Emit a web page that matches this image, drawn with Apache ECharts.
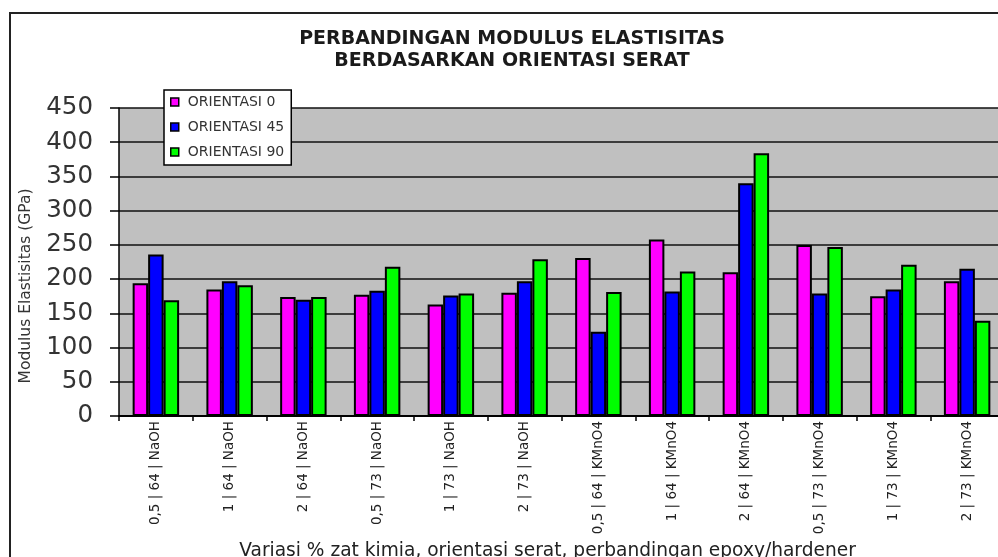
<!DOCTYPE html>
<html>
<head>
<meta charset="utf-8">
<script src="https://cdn.jsdelivr.net/npm/echarts@6/dist/echarts.min.js"></script>
<style>
  html, body { margin: 0; padding: 0; background: #fff; }
  #chart { width: 998px; height: 557px; }
</style>
</head>
<body>
<div id="chart"></div>
<script>
// Sample groups: % chemical | fibre/epoxy ratio | treatment chemical
const categories = [
  '0,5 | 64 | NaOH', '1 | 64 | NaOH', '2 | 64 | NaOH',
  '0,5 | 73 | NaOH', '1 | 73 | NaOH', '2 | 73 | NaOH',
  '0,5 | 64 | KMnO4', '1 | 64 | KMnO4', '2 | 64 | KMnO4',
  '0,5 | 73 | KMnO4', '1 | 73 | KMnO4', '2 | 73 | KMnO4'
];

// Elastic modulus (GPa) per fibre orientation
const orientasi0  = [194, 185, 174, 177, 163, 180, 231, 258, 210, 250, 175, 197];
const orientasi45 = [236, 197, 170, 183, 176, 197, 123, 182, 340, 179, 185, 215];
const orientasi90 = [169, 191, 174, 218, 179, 229, 181, 211, 384, 247, 221, 139];

const seriesNames = ['ORIENTASI 0', 'ORIENTASI 45', 'ORIENTASI 90'];
const seriesColors = ['#ff00ff', '#0000ff', '#00ff00'];
const yTicks = { min: 0, max: 450, step: 50 };

const chart = echarts.init(document.getElementById('chart'), null, { renderer: 'canvas' });

const values = [orientasi0, orientasi45, orientasi90];

const option = {
  animation: false,
  backgroundColor: '#ffffff',
  title: {
    text: 'PERBANDINGAN MODULUS ELASTISITAS\nBERDASARKAN ORIENTASI SERAT',
    left: 512,
    top: 28,
    padding: 0,
    textAlign: 'center',
    textStyle: {
      fontFamily: 'DejaVu Sans',
      fontWeight: 'bold',
      fontSize: 19,
      lineHeight: 22,
      color: '#1a1a1a'
    }
  },
  legend: {
    orient: 'vertical',
    left: 164,
    top: 90,
    padding: [4, 7, 5, 6],
    itemGap: 9,
    itemWidth: 8,
    itemHeight: 8,
    icon: 'rect',
    backgroundColor: '#ffffff',
    borderColor: '#000000',
    borderWidth: 1.5,
    itemStyle: { borderColor: '#000000', borderWidth: 1.5 },
    textStyle: {
      fontFamily: 'DejaVu Sans',
      fontSize: 14,
      lineHeight: 16,
      color: '#333333',
      padding: [0, 0, 0, 4]
    },
    data: seriesNames
  },
  grid: {
    left: 119,
    right: -6,
    top: 108,
    bottom: 141,
    containLabel: false,
    outerBoundsMode: 'none',
    show: true,
    backgroundColor: '#c0c0c0',
    borderWidth: 0
  },
  xAxis: {
    type: 'category',
    data: categories,
    name: 'Variasi % zat kimia, orientasi serat, perbandingan epoxy/hardener',
    nameLocation: 'middle',
    nameGap: 119,
    nameTextStyle: {
      fontFamily: 'DejaVu Sans',
      fontSize: 18.6,
      color: '#222222',
      padding: [0, 28, 0, 0]
    },
    axisLine: { show: true, lineStyle: { color: '#000000', width: 2 } },
    axisTick: { show: true, length: 5, lineStyle: { color: '#000000', width: 1.5 } },
    axisLabel: {
      interval: 0,
      rotate: 90,
      margin: 5,
      fontFamily: 'DejaVu Sans',
      fontSize: 13.5,
      color: '#222222'
    },
    splitLine: { show: false }
  },
  yAxis: {
    type: 'value',
    min: yTicks.min,
    max: yTicks.max,
    interval: yTicks.step,
    name: 'Modulus Elastisitas (GPa)',
    nameLocation: 'middle',
    nameRotate: 90,
    nameGap: 85,
    nameTextStyle: {
      fontFamily: 'DejaVu Sans',
      fontSize: 15.5,
      color: '#333333',
      padding: [0, 48, 0, 0]
    },
    axisLine: { show: true, lineStyle: { color: '#000000', width: 1.5 } },
    axisTick: { show: true, length: 9, lineStyle: { color: '#000000', width: 1.5 } },
    axisLabel: {
      margin: 26,
      fontFamily: 'DejaVu Sans',
      fontSize: 24.5,
      color: '#333333'
    },
    splitLine: { show: true, lineStyle: { color: '#111111', width: 1.5 } }
  },
  series: seriesNames.map((name, i) => ({
    name: name,
    type: 'bar',
    data: values[i],
    barGap: '0%',
    barCategoryGap: '37%',
    itemStyle: {
      color: seriesColors[i],
      borderColor: '#000000',
      borderWidth: 2
    }
  })),
  graphic: [
    {
      type: 'rect',
      silent: true,
      z: 100,
      shape: { x: 10, y: 13, width: 1000, height: 560 },
      style: { fill: 'none', stroke: '#222222', lineWidth: 2 }
    }
  ]
};

chart.setOption(option);
</script>
</body>
</html>
